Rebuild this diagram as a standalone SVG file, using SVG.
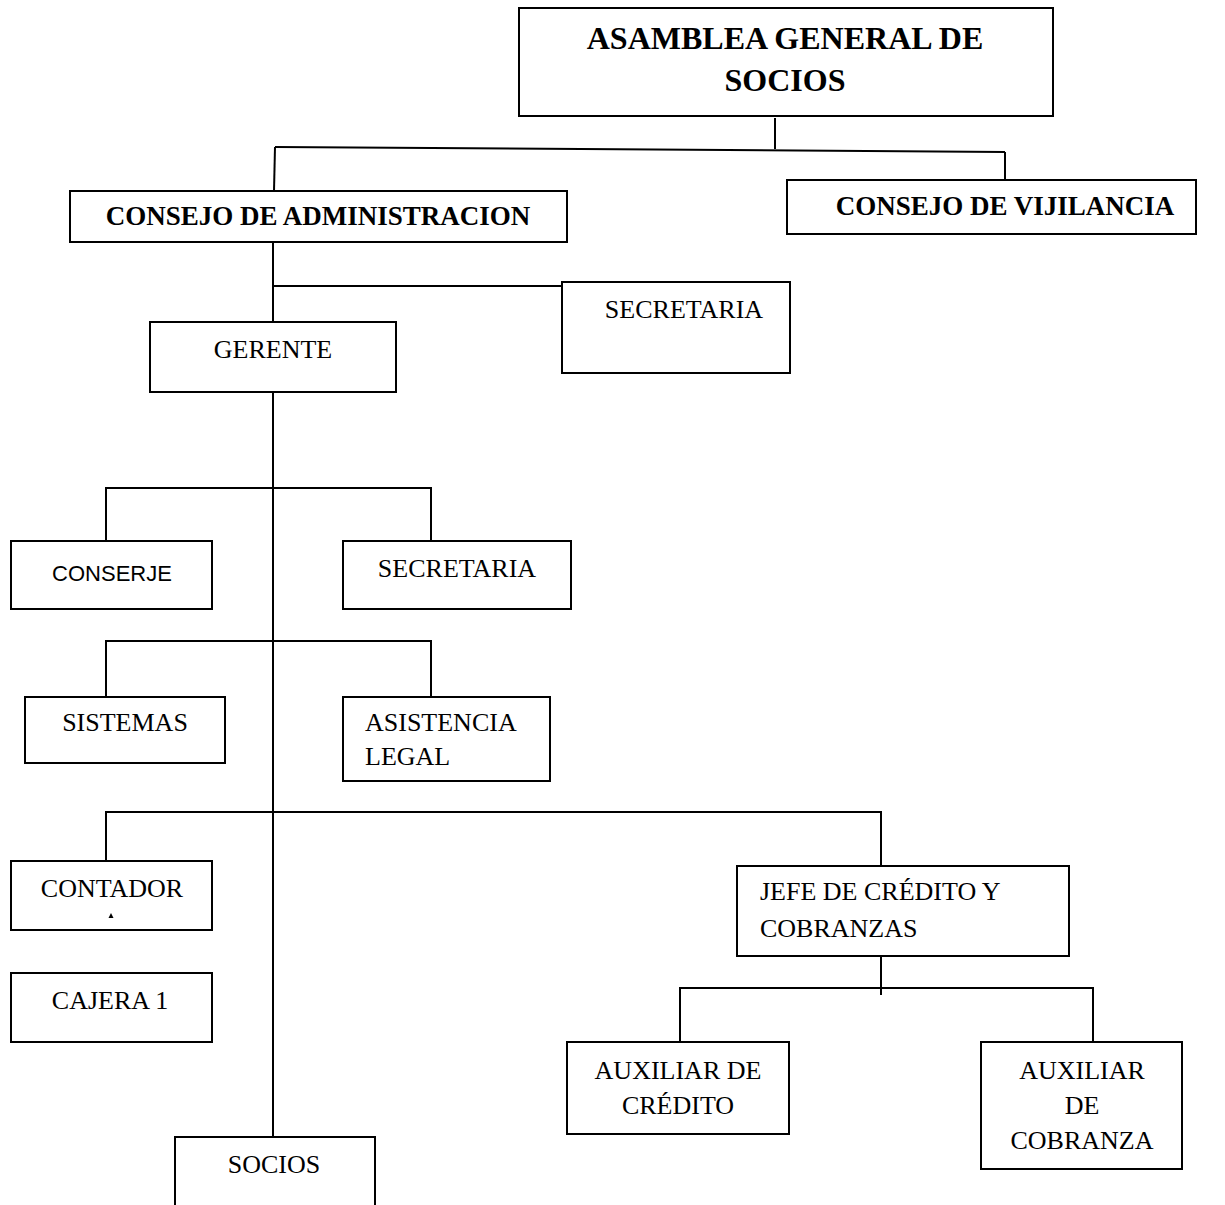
<svg xmlns="http://www.w3.org/2000/svg" width="1225" height="1205" viewBox="0 0 1225 1205">
  <style>
    .box { fill: #ffffff; stroke: #000000; stroke-width: 2; }
    .ln { fill: none; stroke: #000000; stroke-width: 2; }
    .t { font-family: "Liberation Serif", "Times New Roman", serif; font-size: 26px; fill: #000000; }
    .b { font-weight: bold; font-size: 27px; }
    .big { font-size: 32px; }
    .c { text-anchor: middle; }
    .sans { font-family: "Liberation Sans", Arial, sans-serif; font-size: 22px; }
  </style>
  <rect width="1225" height="1205" fill="#ffffff"/>

  <!-- connectors -->
  <g id="connectors">
    <line class="ln" x1="775" y1="118" x2="775" y2="149"/>
    <line class="ln" x1="275" y1="147" x2="1005" y2="152"/>
    <line class="ln" x1="275" y1="147" x2="274" y2="191"/>
    <line class="ln" x1="1005" y1="152" x2="1005" y2="180"/>
    <line class="ln" x1="273" y1="242" x2="273" y2="322"/>
    <line class="ln" x1="273" y1="286" x2="562" y2="286"/>
    <line class="ln" x1="273" y1="392" x2="273" y2="1137"/>
    <polyline class="ln" points="106,541 106,488 431,488 431,541"/>
    <polyline class="ln" points="106,697 106,641 431,641 431,697"/>
    <polyline class="ln" points="106,861 106,812 881,812 881,866"/>
    <line class="ln" x1="881" y1="943" x2="881" y2="995"/>
    <polyline class="ln" points="680,1042 680,988 1093,988 1093,1042"/>
  </g>

  <g id="asamblea">
    <rect class="box" x="519" y="8" width="534" height="108"/>
    <text class="t b big c" x="785" y="49">ASAMBLEA GENERAL DE</text>
    <text class="t b big c" x="785" y="91">SOCIOS</text>
  </g>

  <g id="consejo-admin">
    <rect class="box" x="70" y="191" width="497" height="51"/>
    <text class="t b c" x="318" y="225">CONSEJO DE ADMINISTRACION</text>
  </g>

  <g id="consejo-vigilancia">
    <rect class="box" x="787" y="180" width="409" height="54"/>
    <text class="t b c" x="1005" y="215">CONSEJO DE VIJILANCIA</text>
  </g>

  <g id="secretaria-consejo">
    <rect class="box" x="562" y="282" width="228" height="91"/>
    <text class="t c" x="684" y="318">SECRETARIA</text>
  </g>

  <g id="gerente">
    <rect class="box" x="150" y="322" width="246" height="70"/>
    <text class="t c" x="273" y="358">GERENTE</text>
  </g>

  <g id="conserje">
    <rect class="box" x="11" y="541" width="201" height="68"/>
    <text class="sans c" x="112" y="581">CONSERJE</text>
  </g>

  <g id="secretaria-gerencia">
    <rect class="box" x="343" y="541" width="228" height="68"/>
    <text class="t c" x="457" y="577">SECRETARIA</text>
  </g>

  <g id="sistemas">
    <rect class="box" x="25" y="697" width="200" height="66"/>
    <text class="t c" x="125" y="731">SISTEMAS</text>
  </g>

  <g id="asistencia-legal">
    <rect class="box" x="343" y="697" width="207" height="84"/>
    <text class="t" x="365" y="731">ASISTENCIA</text>
    <text class="t" x="365" y="765">LEGAL</text>
  </g>

  <g id="contador">
    <rect class="box" x="11" y="861" width="201" height="69"/>
    <text class="t c" x="112" y="897">CONTADOR</text>
    <polygon points="111,913 113.5,918 108.5,918" fill="#000000"/>
  </g>

  <g id="cajera">
    <rect class="box" x="11" y="973" width="201" height="69"/>
    <text class="t c" x="110" y="1009">CAJERA 1</text>
  </g>

  <g id="socios">
    <rect class="box" x="175" y="1137" width="200" height="80"/>
    <text class="t c" x="274" y="1173">SOCIOS</text>
  </g>

  <g id="jefe-credito">
    <rect class="box" x="737" y="866" width="332" height="90"/>
    <text class="t" x="760" y="900">JEFE DE CRÉDITO Y</text>
    <text class="t" x="760" y="937">COBRANZAS</text>
  </g>

  <g id="auxiliar-credito">
    <rect class="box" x="567" y="1042" width="222" height="92"/>
    <text class="t c" x="678" y="1079">AUXILIAR DE</text>
    <text class="t c" x="678" y="1114">CRÉDITO</text>
  </g>

  <g id="auxiliar-cobranza">
    <rect class="box" x="981" y="1042" width="201" height="127"/>
    <text class="t c" x="1082" y="1079">AUXILIAR</text>
    <text class="t c" x="1082" y="1114">DE</text>
    <text class="t c" x="1082" y="1149">COBRANZA</text>
  </g>
</svg>
